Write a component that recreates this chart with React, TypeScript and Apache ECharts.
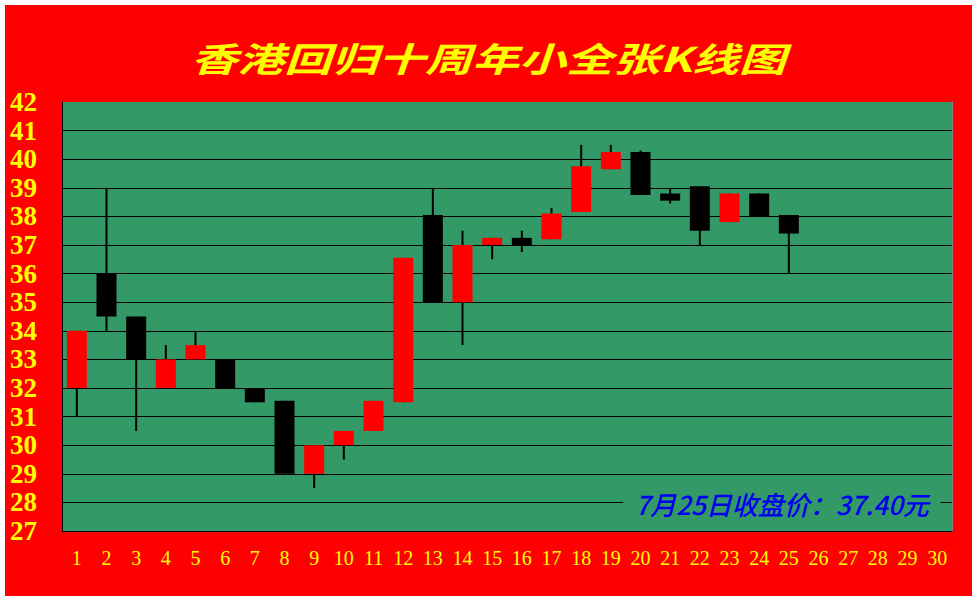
import React, { useEffect, useRef } from "react";
import * as echarts from "echarts";

const days = ["1","2","3","4","5","6","7","8","9","10","11","12","13","14","15","16","17","18","19","20","21","22","23","24","25","26","27","28","29","30"];
const openVals = [32, 36, 34.5, 32, 33, 33, 32, 31.55, 29, 30, 30.5, 31.5, 38.05, 35, 37, 37.25, 37.2, 38.15, 39.65, 40.25, 38.8, 39.05, 37.8, 38.8, 38.05];
const closeVals = [34, 34.5, 33, 33, 33.5, 32, 31.5, 29, 30, 30.5, 31.55, 36.55, 35, 37, 37.25, 37, 38.1, 39.75, 40.25, 38.75, 38.55, 37.5, 38.8, 38, 37.4];
const lowVals = [31, 34, 30.5, 32, 33, 32, 31.5, 29, 28.5, 29.5, 30.5, 31.5, 35, 33.5, 36.5, 36.75, 37.2, 38.15, 39.65, 38.75, 38.45, 37, 37.8, 38, 36];
const highVals = [34, 39, 34.5, 33.5, 34, 33, 32, 31.55, 30, 30.5, 31.55, 36.55, 39, 37.5, 37.25, 37.5, 38.3, 40.5, 40.5, 40.3, 39, 39.05, 38.8, 38.8, 38.05];

const titleText = "香港回归十周年小全张K线图";
const noteText = "7月25日收盘价：37.40元";

export default function App() {
  const ref = useRef<HTMLDivElement>(null);
  useEffect(() => {
    if (!ref.current) return;
    const chart = echarts.init(ref.current, null, { renderer: "svg" });
    const data = openVals.map((o, i) => [i, o, closeVals[i], lowVals[i], highVals[i]]);
    const splitColors: string[] = [];
    for (let i = 0; i <= 15; i++) splitColors.push(i === 0 || i === 15 ? "rgba(0,0,0,0)" : "#000000");
    chart.setOption({
      animation: false,
      backgroundColor: "#FF0000",
      grid: {
        left: 57,
        top: 97,
        right: 20,
        bottom: 65,
        show: true,
        backgroundColor: "#339966",
        borderWidth: 0,
      },
      xAxis: {
        type: "category",
        data: days,
        boundaryGap: true,
        axisLine: { show: true, lineStyle: { color: "#000000", width: 1 } },
        axisTick: { show: false },
        splitLine: { show: false },
        axisLabel: {
          interval: 0,
          color: "#FFFF00",
          fontFamily: "Liberation Serif",
          fontSize: 20,
          margin: 17,
        },
      },
      yAxis: [
        {
          type: "value",
          min: 27,
          max: 42,
          interval: 1,
          axisLine: { show: true, lineStyle: { color: "#000000", width: 1 } },
          axisTick: { show: false },
          splitLine: { show: true, lineStyle: { color: splitColors, width: 1 } },
          axisLabel: {
            color: "#FFFF00",
            fontFamily: "Liberation Serif",
            fontWeight: "bold",
            fontSize: 27,
            align: "left",
            margin: 52,
          },
        },
        {
          type: "value",
          position: "right",
          min: 27,
          max: 42,
          interval: 1,
          axisLine: { show: true, lineStyle: { color: "#808080", width: 1 } },
          axisTick: { show: false },
          axisLabel: { show: false },
          splitLine: { show: false },
        },
      ],
      series: [
        {
          type: "custom",
          dimensions: ["day", "open", "close", "low", "high"],
          encode: { x: 0, y: [1, 2, 3, 4] },
          data,
          renderItem: (params: any, api: any) => {
            const x = api.value(0);
            const o = api.value(1);
            const c = api.value(2);
            const lo = api.value(3);
            const hi = api.value(4);
            const pLow = api.coord([x, lo]);
            const pHigh = api.coord([x, hi]);
            const pO = api.coord([x, o]);
            const pC = api.coord([x, c]);
            const w = api.size([1, 0])[0] * 0.674;
            const up = c >= o;
            return {
              type: "group",
              children: [
                {
                  type: "line",
                  shape: { x1: pLow[0], y1: pLow[1], x2: pHigh[0], y2: pHigh[1] },
                  style: { stroke: "#000000", lineWidth: 2 },
                },
                {
                  type: "rect",
                  shape: {
                    x: pO[0] - w / 2,
                    y: Math.min(pO[1], pC[1]),
                    width: w,
                    height: Math.max(1, Math.abs(pO[1] - pC[1])),
                  },
                  style: { fill: up ? "#FF0000" : "#000000" },
                },
              ],
            };
          },
        },
      ],
      graphic: [
        {
          type: "text",
          x: 483,
          y: 52,
          scaleX: 1.38,
          z: 100,
          style: {
            text: titleText,
            fill: "#FFFF00",
            font: 'italic bold 34px "Noto Sans CJK SC"',
            textAlign: "center",
            textVerticalAlign: "middle",
          },
        },
        {
          type: "text",
          x: 777,
          y: 498,
          z: 100,
          style: {
            text: noteText,
            fill: "#0000EE",
            font: 'italic 500 26px "Noto Sans CJK SC"',
            textAlign: "center",
            textVerticalAlign: "middle",
            backgroundColor: "#339966",
            padding: [2, 12],
          },
        },
      ],
    });
    return () => chart.dispose();
  }, []);
  return (
    <div style={{ position: "absolute", left: 0, top: 0, width: 977, height: 600, background: "#FFFFFF" }}>
      <div ref={ref} style={{ position: "absolute", left: 5, top: 5, width: 967, height: 591 }} />
    </div>
  );
}
